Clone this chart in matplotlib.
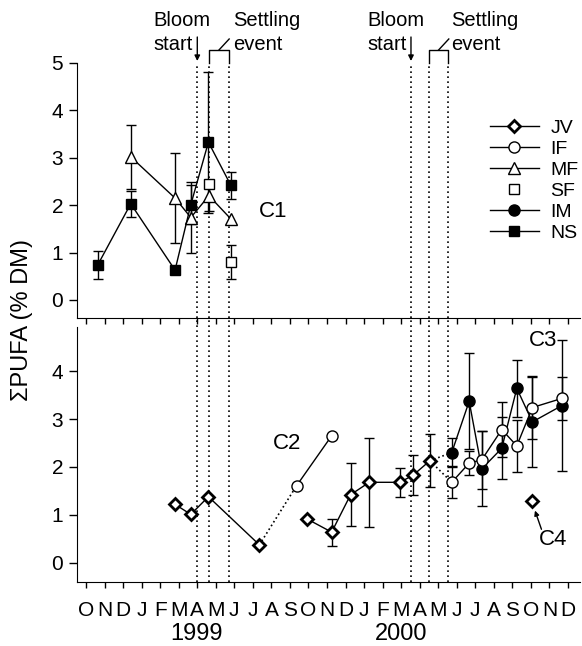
import numpy as np
import matplotlib
matplotlib.use("Agg")
import matplotlib.pyplot as plt
from matplotlib.lines import Line2D
import matplotlib.transforms as mtransforms

plt.rcParams['font.family'] = ['Liberation Sans', 'DejaVu Sans']

# months from Oct 1998 (index 0) to Dec 2000 (index 26)
month_labels = list("ONDJFMAMJJASONDJFMAMJJASOND")
year_labels = ["1999", "2000"]

# ---- top panel (C1) ----
ns_x = [0.63, 2.41, 4.8, 5.65, 6.6, 7.81]
ns_y = [0.74, 2.03, 0.63, 2.01, 3.33, 2.42]
ns_err = [0.29, 0.27, 0.0, 0.41, 1.49, 0.29]

mf_x = [2.41, 4.8, 5.65, 6.63, 7.81]
mf_y = [3.02, 2.15, 1.74, 2.20, 1.71]
mf_err = [0.68, 0.95, 0.74, 0.32, 0.0]

sf_x = [6.63, 7.81]
sf_y = [2.45, 0.81]
sf_err = [0.0, 0.36]

# ---- bottom panel (C2, C3, C4) ----
jv1_x = [4.8, 5.65, 6.6, 9.35]
jv1_y = [1.22, 1.01, 1.38, 0.375]
jv2_x = [11.9, 13.25, 14.27, 15.28, 16.94, 17.65, 18.55]
jv2_y = [0.92, 0.64, 1.42, 1.68, 1.68, 1.83, 2.13]
jv2_err = [0.0, 0.28, 0.66, 0.93, 0.30, 0.42, 0.55]
jv_c4_x = [24.08]
jv_c4_y = [1.29]

if1_x = [11.36, 13.25]
if1_y = [1.61, 2.65]
if2_x = [19.73, 20.67, 21.35, 22.43, 23.24, 24.08, 25.67]
if2_y = [1.68, 2.08, 2.15, 2.78, 2.44, 3.24, 3.43]
if2_err = [0.33, 0.25, 0.60, 0.57, 0.54, 0.66, 0.45]

im_x = [19.73, 20.67, 21.35, 22.43, 23.24, 24.08, 25.67]
im_y = [2.30, 3.37, 1.96, 2.39, 3.64, 2.94, 3.28]
im_err = [0.31, 1.00, 0.78, 0.65, 0.60, 0.94, 1.37]

bloom_x = [6.0, 17.53]
settle_x = [(6.63, 7.71), (18.52, 19.52)]

W, H = 582, 646
fig = plt.figure(figsize=(W / 100, H / 100), dpi=100)

def px(x, y):
    return x / W, 1 - y / H

ax_top = fig.add_axes([77 / W, 1 - 318 / H, 503 / W, 255 / H])
ax_bot = fig.add_axes([77 / W, 1 - 582 / H, 503 / W, 255 / H])

xlim = (-0.49, 26.65)
for ax in (ax_top, ax_bot):
    ax.set_xlim(*xlim)
    for s in ('top', 'right'):
        ax.spines[s].set_visible(False)
    ax.tick_params(axis='y', direction='out', length=6, width=1, labelsize=15, pad=4)
    ax.tick_params(axis='x', direction='out', length=4, width=1, labelsize=15)
    ax.set_xticks(range(27))
    ax.patch.set_alpha(0)

ax_top.set_ylim(-0.38, 5.0)
ax_top.set_yticks([0, 1, 2, 3, 4, 5])
ax_top.set_xticklabels([])
ax_bot.set_ylim(-0.4, 4.92)
ax_bot.set_yticks([0, 1, 2, 3, 4])
ax_bot.set_xticklabels(month_labels)
ax_bot.tick_params(axis='x', pad=10)


def err(ax, x, y, e):
    xs = [a for a, b in zip(x, e) if b > 0]
    ys = [a for a, b in zip(y, e) if b > 0]
    es = [b for b in e if b > 0]
    ax.errorbar(xs, ys, yerr=es, fmt='none', ecolor='black', elinewidth=1,
                capsize=3.5, capthick=1, zorder=2)


# top panel
err(ax_top, ns_x, ns_y, ns_err)
err(ax_top, mf_x, mf_y, mf_err)
err(ax_top, sf_x, sf_y, sf_err)
ax_top.plot(mf_x, mf_y, '-', color='black', lw=1, marker='^', ms=9, mfc='white',
            mec='black', mew=1, zorder=3)
ax_top.plot(ns_x, ns_y, '-', color='black', lw=1, marker='s', ms=7, mfc='black',
            mec='black', zorder=4)
ax_top.plot(sf_x, sf_y, 'none', marker='s', ms=7, mfc='white', mec='black',
            mew=1, zorder=5)

# bottom panel
err(ax_bot, jv2_x, jv2_y, jv2_err)
err(ax_bot, if2_x, if2_y, if2_err)
err(ax_bot, im_x, im_y, im_err)
ax_bot.plot([jv1_x[-1], if1_x[0]], [jv1_y[-1], if1_y[0]], ':', color='black', lw=1.2, zorder=2)
ax_bot.plot([jv2_x[-1], im_x[0]], [jv2_y[-1], im_y[0]], ':', color='black', lw=1.2, zorder=2)
ax_bot.plot([jv2_x[-1], if2_x[0]], [jv2_y[-1], if2_y[0]], ':', color='black', lw=1.2, zorder=2)

jv_style = dict(color='black', lw=1, marker='D', ms=6, mfc='white', mec='black', mew=2, zorder=4)
ax_bot.plot(jv1_x, jv1_y, '-', **jv_style)
ax_bot.plot(jv2_x, jv2_y, '-', **jv_style)
ax_bot.plot(jv_c4_x, jv_c4_y, 'none', **jv_style)
ax_bot.plot(if1_x, if1_y, '-', color='black', lw=1, marker='o', ms=8, mfc='white',
            mec='black', mew=1, zorder=4)
ax_bot.plot(im_x, im_y, '-', color='black', lw=1, marker='o', ms=8, mfc='black',
            mec='black', zorder=3)
ax_bot.plot(if2_x, if2_y, '-', color='black', lw=1, marker='o', ms=8, mfc='white',
            mec='black', mew=1, zorder=4)

# event lines through both panels
for xv in bloom_x + [v for pair in settle_x for v in pair]:
    ax_top.axvline(xv, ymin=0, ymax=1, ls=(0, (1, 2)), color='black', lw=1.2, zorder=1)
    ax_bot.axvline(xv, ymin=0, ymax=1.04, ls=(0, (1, 2)), color='black', lw=1.2,
                   zorder=1, clip_on=False)

# annotations above top panel
tr = mtransforms.blended_transform_factory(ax_top.transData, ax_top.transAxes)
def fy(y):
    return (318 - y) / 255.0

for b, (s1, s2) in zip(bloom_x, settle_x):
    ax_top.annotate('', xy=(b, fy(61)), xytext=(b, fy(37)), xycoords=tr, textcoords=tr,
                    arrowprops=dict(arrowstyle='-|>', color='black', lw=1,
                                    mutation_scale=8, shrinkA=0, shrinkB=0),
                    annotation_clip=False)
    ax_top.text(b - 2.37, fy(21), 'Bloom', transform=tr, fontsize=14.5, ha='left', va='center')
    ax_top.text(b - 2.37, fy(45), 'start', transform=tr, fontsize=14.5, ha='left', va='center')
    ax_top.plot([s1, s1, s2, s2], [fy(63), fy(50), fy(50), fy(63)], color='black', lw=1,
                transform=tr, clip_on=False)
    mid = (s1 + s2) / 2
    ax_top.plot([mid, mid + 0.55], [fy(50), fy(39)], color='black', lw=1,
                transform=tr, clip_on=False)
    ax_top.text(s2 + 0.2, fy(21), 'Settling', transform=tr, fontsize=14.5, ha='left', va='center')
    ax_top.text(s2 + 0.2, fy(45), 'event', transform=tr, fontsize=14.5, ha='left', va='center')

# cohort labels
ax_top.text(10.09, 1.86, 'C1', fontsize=16, ha='center', va='center')
ax_bot.text(10.84, 2.48, 'C2', fontsize=16, ha='center', va='center')
ax_bot.text(24.65, 4.63, 'C3', fontsize=16, ha='center', va='center')
ax_bot.text(25.19, 0.48, 'C4', fontsize=16, ha='center', va='center')
ax_bot.annotate('', xy=(24.22, 1.09), xytext=(24.57, 0.70),
                arrowprops=dict(arrowstyle='-|>', color='black', lw=1, mutation_scale=7,
                                shrinkA=0, shrinkB=0))

# legend
handles = [
    Line2D([], [], color='black', lw=1, marker='D', ms=6, mfc='white', mew=2),
    Line2D([], [], color='black', lw=1, marker='o', ms=8, mfc='white'),
    Line2D([], [], color='black', lw=1, marker='^', ms=9, mfc='white'),
    Line2D([], [], ls='none', color='black', marker='s', ms=7, mfc='white'),
    Line2D([], [], color='black', lw=1, marker='o', ms=8, mfc='black'),
    Line2D([], [], color='black', lw=1, marker='s', ms=7, mfc='black'),
]
ax_top.legend(handles, ['JV', 'IF', 'MF', 'SF', 'IM', 'NS'], loc='upper left',
              bbox_to_anchor=(0.821, 0.778), frameon=False, fontsize=14,
              handlelength=2.5, handletextpad=0.6, labelspacing=0.17,
              borderpad=0, borderaxespad=0)

# y label and years
fig.text(*px(22, 320), 'ΣPUFA (% DM)', rotation=90, fontsize=17, ha='center', va='center')
fig.text(*px(196, 634), year_labels[0], fontsize=17, ha='center', va='center')
fig.text(*px(401, 634), year_labels[1], fontsize=17, ha='center', va='center')

fig.savefig('out.png', dpi=100)
